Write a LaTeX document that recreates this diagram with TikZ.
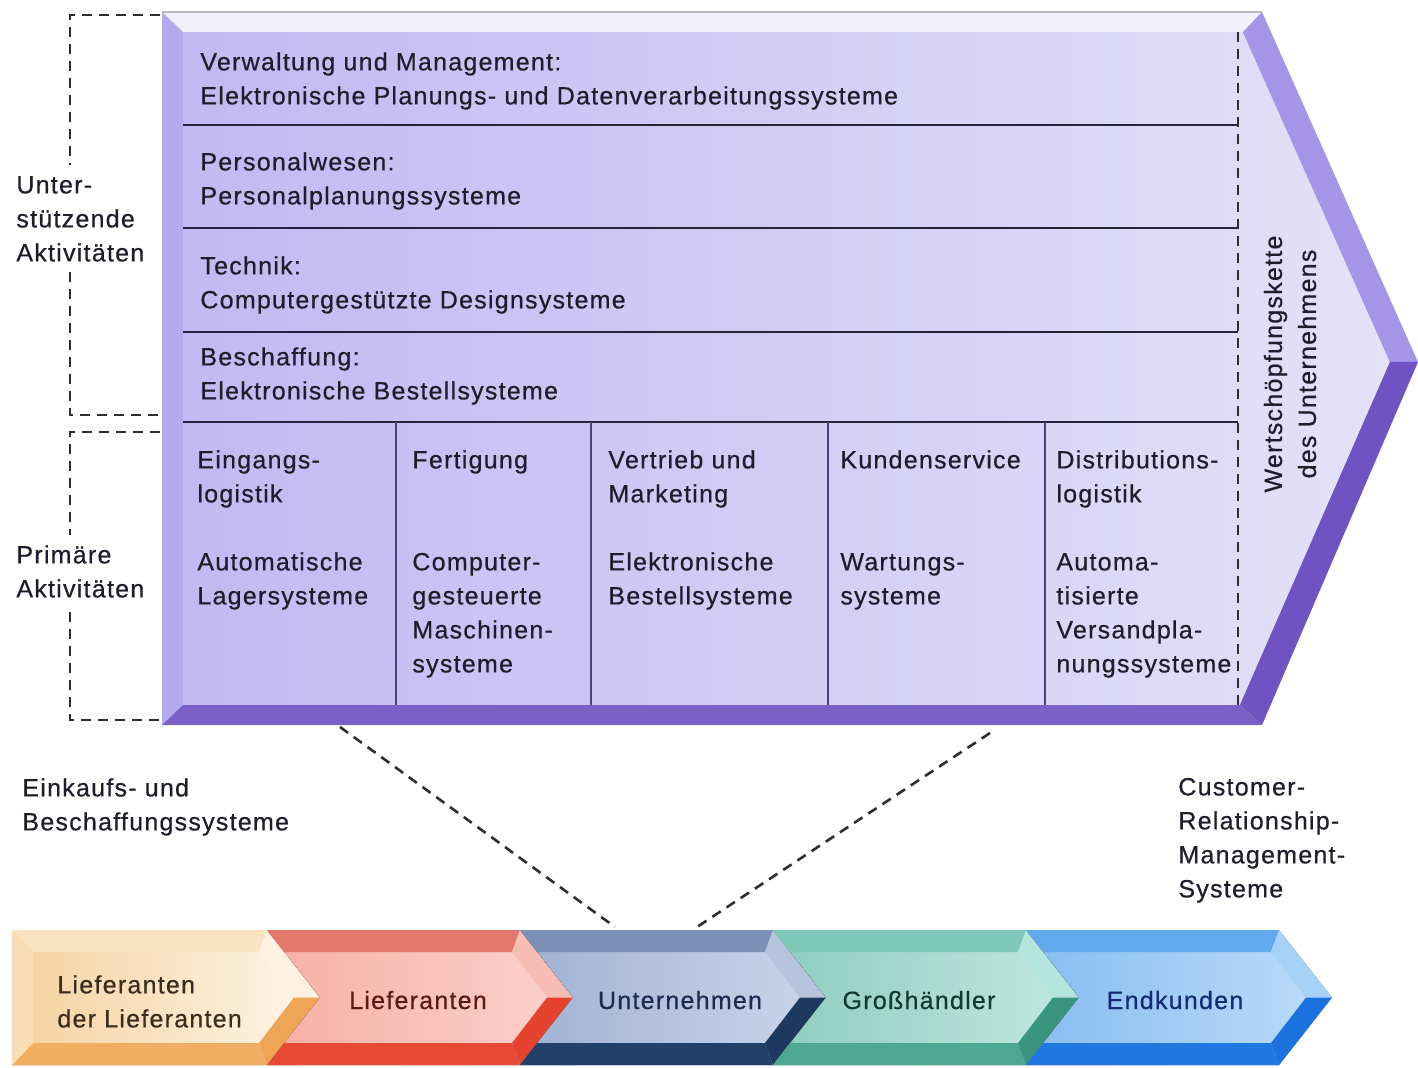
\documentclass[tikz,border=0pt]{standalone}
\usepackage{fontspec}
\setmainfont{Liberation Sans}[LetterSpace=5,FakeBold=0.5]
\usetikzlibrary{calc}

% text and line colours
\definecolor{txt}{HTML}{1F1D2B}
\definecolor{dashc}{HTML}{2E2E2E}
\definecolor{sepc}{HTML}{26243A}
\definecolor{divc}{HTML}{4B4377}
% value chain block
\definecolor{faceL}{HTML}{C2B9F2}
\definecolor{faceR}{HTML}{E4E1F8}
\definecolor{bevTop}{HTML}{F1F0F8}
\definecolor{bevLeft}{HTML}{B3A9EE}
\definecolor{bevBot}{HTML}{7B60C8}
\definecolor{bevUp}{HTML}{A595E8}
\definecolor{bevLow}{HTML}{7052C2}
% supply chain arrows: A/B face, T top, U upper slope, L lower slope, D bottom
\definecolor{lfA}{HTML}{F5D19E}\definecolor{lfB}{HTML}{FFF6EA}
\definecolor{lfT}{HTML}{FBE4C2}\definecolor{lfU}{HTML}{FDF1E0}
\definecolor{lfL}{HTML}{EFA456}\definecolor{lfD}{HTML}{F1AE62}
\definecolor{lfE}{HTML}{F8DDB5}\definecolor{lfX}{HTML}{3A2C1E}
\definecolor{liA}{HTML}{F6AFA6}\definecolor{liB}{HTML}{FBD3CC}
\definecolor{liT}{HTML}{E2776C}\definecolor{liU}{HTML}{F7BDB4}
\definecolor{liL}{HTML}{E5432F}\definecolor{liD}{HTML}{E64A36}
\definecolor{liX}{HTML}{5A1A14}
\definecolor{unA}{HTML}{9FB2D4}\definecolor{unB}{HTML}{CBD6EA}
\definecolor{unT}{HTML}{7C90B6}\definecolor{unU}{HTML}{B6C4DE}
\definecolor{unL}{HTML}{1D3A5E}\definecolor{unD}{HTML}{21416A}
\definecolor{unX}{HTML}{1B2B52}
\definecolor{ghA}{HTML}{8ECDBE}\definecolor{ghB}{HTML}{C3E8E0}
\definecolor{ghT}{HTML}{7EC8B8}\definecolor{ghU}{HTML}{B5E6DC}
\definecolor{ghL}{HTML}{3A957E}\definecolor{ghD}{HTML}{4CA892}
\definecolor{ghX}{HTML}{12392F}
\definecolor{ekA}{HTML}{86BDF2}\definecolor{ekB}{HTML}{BEDCF8}
\definecolor{ekT}{HTML}{62A9EE}\definecolor{ekU}{HTML}{A6D2F7}
\definecolor{ekL}{HTML}{1B72DE}\definecolor{ekD}{HTML}{2078E2}
\definecolor{ekX}{HTML}{132B70}

% strut fixing the first line's top above its baseline
\newcommand\tp{\rule{0pt}{10pt}}

% bevelled chevron: #1 colour prefix, #2 left x, #3 right x, #4 notch depth, #5 inner left inset
\newcommand\chev[5]{%
  \fill[left color=#1A, right color=#1B] (#2,930) -- (#3,930) -- ({#3+53},997.5)
     -- (#3,1065) -- (#2,1065) -- ({#2+#4},997.5) -- cycle;
  \fill[#1T] (#2,930) -- (#3,930) -- ({#3-8},952) -- ({#2+#5},952) -- cycle;
  \fill[#1D] (#2,1065) -- (#3,1065) -- ({#3-8},1043) -- ({#2+#5},1043) -- cycle;
  \fill[#1U] (#3,930) -- ({#3+53},997.5) -- ({#3+27},997.5) -- ({#3-8},952) -- cycle;
  \fill[#1L] ({#3+53},997.5) -- (#3,1065) -- ({#3-8},1043) -- ({#3+27},997.5) -- cycle;
}

\begin{document}
\begin{tikzpicture}[x=0.5pt,y=-0.5pt,
  lbl/.style={anchor=north west, inner sep=0pt, align=left,
              font=\fontsize{12.5}{17}\selectfont, text=txt},
  chn/.style={anchor=base, inner sep=0pt, font=\fontsize{12.5}{17}\selectfont},
  dashln/.style={draw=dashc, line width=1.3pt, dash pattern=on 5pt off 3.5pt},
  sepln/.style={draw=sepc, line width=1pt},
  divln/.style={draw=divc, line width=1.2pt}]
\useasboundingbox (0,0) rectangle (1418,1068);
\fill[white] (0,0) rectangle (1418,1068);

% ---------- value chain block ----------
\coordinate (O1) at (162,12);   \coordinate (O2) at (1262,12);
\coordinate (OT) at (1418,362); \coordinate (O3) at (1262,725);
\coordinate (O4) at (162,725);
\coordinate (I1) at (183,32);   \coordinate (I2) at (1243,32);
\coordinate (IT) at (1390,362); \coordinate (I3) at (1240,705);
\coordinate (I4) at (183,705);

\fill[left color=faceL, right color=faceR] (I1) -- (I2) -- (IT) -- (I3) -- (I4) -- cycle;
\fill[bevTop]  (O1) -- (O2) -- (I2) -- (I1) -- cycle;
\fill[bevLeft] (O1) -- (I1) -- (I4) -- (O4) -- cycle;
\fill[bevBot]  (O4) -- (I4) -- (I3) -- (O3) -- cycle;
\fill[bevUp]   (O2) -- (OT) -- (IT) -- (I2) -- cycle;
\fill[bevLow]  (OT) -- (O3) -- (I3) -- (IT) -- cycle;
\draw[gray!55, line width=0.7pt] (O1) -- (O2);

% row separators
\foreach \yy in {125,228,332,422} {
  \draw[sepln] (183,\yy) -- (1238,\yy);
}
% primary activity dividers
\foreach \xx in {396,591,828,1045} {
  \draw[divln] (\xx,422) -- (\xx,705);
}
% boundary of the chain area
\coordinate (rdT) at (1238,32); \coordinate (rdB) at (1238,705);
\draw[dashln, line width=1pt] (rdT) -- (rdB);

% support activities
\node[lbl] (verw)  at (200,50)  {\tp Verwaltung und Management:\\Elektronische Planungs- und Datenverarbeitungssysteme};
\node[lbl] (pers)  at (200,150) {\tp Personalwesen:\\Personalplanungssysteme};
\node[lbl] (tech)  at (200,254) {\tp Technik:\\Computergestützte Designsysteme};
\node[lbl] (besch) at (200,345) {\tp Beschaffung:\\Elektronische Bestellsysteme};

% primary activities
\node[lbl] (eing) at (197,448)  {\tp Eingangs-\\logistik\\[17pt]Automatische\\Lagersysteme};
\node[lbl] (fert) at (412,448)  {\tp Fertigung\\[34pt]Computer-\\gesteuerte\\Maschinen-\\systeme};
\node[lbl] (vert) at (608,448)  {\tp Vertrieb und\\Marketing\\[17pt]Elektronische\\Bestellsysteme};
\node[lbl] (kund) at (840,448)  {\tp Kundenservice\\[34pt]Wartungs-\\systeme};
\node[lbl] (dist) at (1056,448) {\tp Distributions-\\logistik\\[17pt]Automa-\\tisierte\\Versandpla-\\nungssysteme};

% arrow label
\node[rotate=90, align=center, inner sep=0pt, font=\fontsize{12.5}{17}\selectfont, text=txt]
  (wsk) at (1290,364) {Wertschöpfungskette\\des Unternehmens};

% ---------- side brackets ----------
\node[lbl] (unter) at (16,173) {\tp Unter-\\stützende\\Aktivitäten};
\node[lbl] (prim)  at (16,543) {\tp Primäre\\Aktivitäten};

\coordinate (ubR) at (160,15);  \coordinate (ubC) at (70,15);
\coordinate (ubG1) at (70,165); \coordinate (ubG2) at (70,272);
\coordinate (ubD) at (70,415);  \coordinate (ubE) at (160,415);
\draw[dashln] (ubR) -- (ubC) -- (ubG1);
\draw[dashln] (ubG2) -- (ubD) -- (ubE);

\coordinate (lbR) at (160,432); \coordinate (lbC) at (70,432);
\coordinate (lbG1) at (70,535); \coordinate (lbG2) at (70,612);
\coordinate (lbD) at (70,720);  \coordinate (lbE) at (162,720);
\draw[dashln] (lbR) -- (lbC) -- (lbG1);
\draw[dashln] (lbG2) -- (lbD) -- (lbE);

% ---------- lower labels ----------
\node[lbl] (eink) at (22,776)   {\tp Einkaufs- und\\Beschaffungssysteme};
\node[lbl] (crm)  at (1178,775) {\tp Customer-\\Relationship-\\Management-\\Systeme};

% ---------- supply chain ----------
\chev{lf}{12}{267}{0}{21}
\fill[lfE] (12,930) -- (33,952) -- (33,1043) -- (12,1065) -- cycle;
\chev{li}{267}{520}{53}{17}
\chev{un}{520}{773}{53}{17}
\chev{gh}{773}{1026}{53}{17}
\chev{ek}{1026}{1279}{53}{17}

\node[lbl, text=lfX] (llief) at (57,973) {\tp Lieferanten\\der Lieferanten};
\node[chn, text=liX] (lief) at (418,1009) {Lieferanten};
\node[chn, text=unX] (unt)  at (680,1009) {Unternehmen};
\node[chn, text=ghX] (gross) at (919,1009) {Großhändler};
\node[chn, text=ekX] (endk) at (1175,1009) {Endkunden};

% zoom lines from the company arrow up to the value chain
\coordinate (zL) at (340,727); \coordinate (zR) at (990,733);
\coordinate (uL) at (615,927); \coordinate (uR) at (697,927);
\draw[dashln] (zL) -- (uL);
\draw[dashln] (zR) -- (uR);
\end{tikzpicture}
\end{document}
